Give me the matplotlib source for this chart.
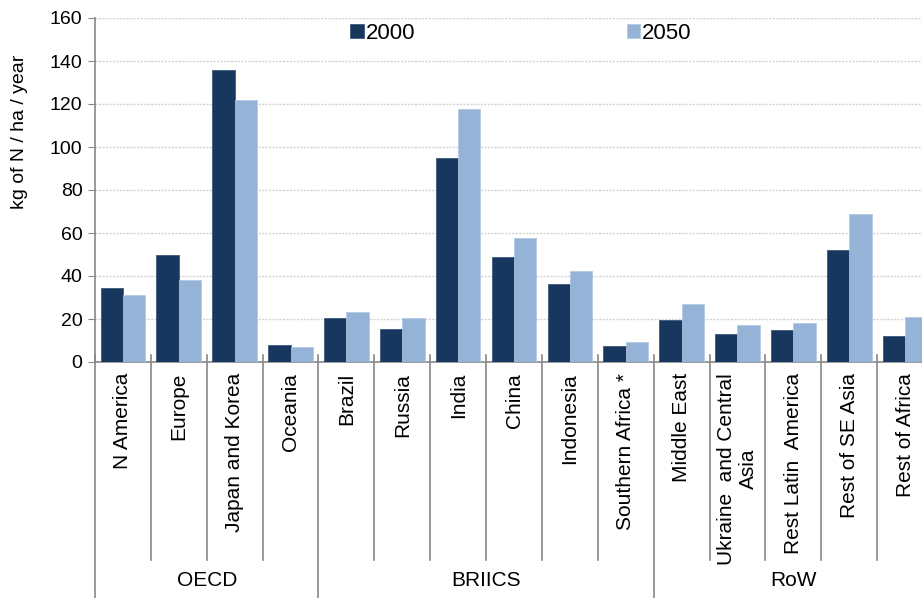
import numpy as np
import matplotlib
matplotlib.use("Agg")
import matplotlib.pyplot as plt

plt.rcParams['font.family'] = ['Liberation Sans', 'DejaVu Sans']

regions = ['N America', 'Europe', 'Japan and Korea', 'Oceania',
           'Brazil', 'Russia', 'India', 'China', 'Indonesia', 'Southern Africa *',
           'Middle East', 'Ukraine  and Central\nAsia', 'Rest Latin  America',
           'Rest of SE Asia', 'Rest of Africa']
groups = ['OECD', 'BRIICS', 'RoW']
group_sizes = [4, 6, 5]
val_2000 = [34.4, 49.8, 136, 7.8, 20.4, 15.2, 94.8, 48.9, 36.4, 7.6,
            19.5, 12.9, 15.0, 51.9, 12.1]
val_2050 = [31.2, 38.1, 122, 7.0, 23.3, 20.4, 117.6, 57.8, 42.3, 9.1,
            26.9, 17.2, 18.1, 68.8, 20.9]

dark = '#17375E'
light = '#95B3D7'
gray = '#878787'

fig = plt.figure(figsize=(9.22, 5.98), dpi=100)
ax = fig.add_axes([95/922, 1-362/598, 838/922, 344/598])

x = np.arange(len(regions))
w = 0.4
ax.bar(x - w/2, val_2000, w, color=dark, edgecolor='#2c4a70', linewidth=0.5, label='2000', zorder=3)
ax.bar(x + w/2, val_2050, w, color=light, edgecolor='#b0c6e2', linewidth=0.5, label='2050', zorder=3)

ax.set_xlim(-0.5, len(regions) - 0.5)
ax.set_ylim(0, 160)
ax.set_yticks(np.arange(0, 161, 20))
ax.tick_params(axis='y', labelsize=14, length=5, color=gray, pad=4)
ax.set_xticks([])
ax.yaxis.grid(True, color='#D2D2D2', linestyle=(0, (1.5, 1)), linewidth=1.0, zorder=0)
for s in ['top', 'right']:
    ax.spines[s].set_visible(False)
for s in ['left', 'bottom']:
    ax.spines[s].set_color(gray)
    ax.spines[s].set_linewidth(1.2)

tr = ax.get_xaxis_transform()
# category labels and separators
for i, name in enumerate(regions):
    ax.text(i, -0.032, name, transform=tr, rotation=90, ha='center', va='top',
            fontsize=15, multialignment='center', clip_on=False)
bounds = np.cumsum([0] + group_sizes) - 0.5
for b in np.arange(len(regions) + 1) - 0.5:
    if b in bounds:
        ax.plot([b, b], [0.02, -0.69], transform=tr, color=gray, lw=1.2, clip_on=False)
    else:
        ax.plot([b, b], [0.02, -0.576], transform=tr, color=gray, lw=1.2, clip_on=False)
for g, lo, hi in zip(groups, bounds[:-1], bounds[1:]):
    ax.text((lo + hi) / 2, -0.634, g, transform=tr, ha='center', va='center',
            fontsize=15, clip_on=False)

fig.text(20/922, 1-132/598, 'kg of N / ha / year', rotation=90, ha='center', va='center', fontsize=14)

ax.legend(loc='upper center', bbox_to_anchor=(521/922, 1-12/598), bbox_transform=fig.transFigure,
          ncol=2, frameon=False, fontsize=16, handlelength=0.6, handleheight=0.6,
          handletextpad=0.1, columnspacing=9.5, borderpad=0)

fig.savefig('out.png', dpi=100)
